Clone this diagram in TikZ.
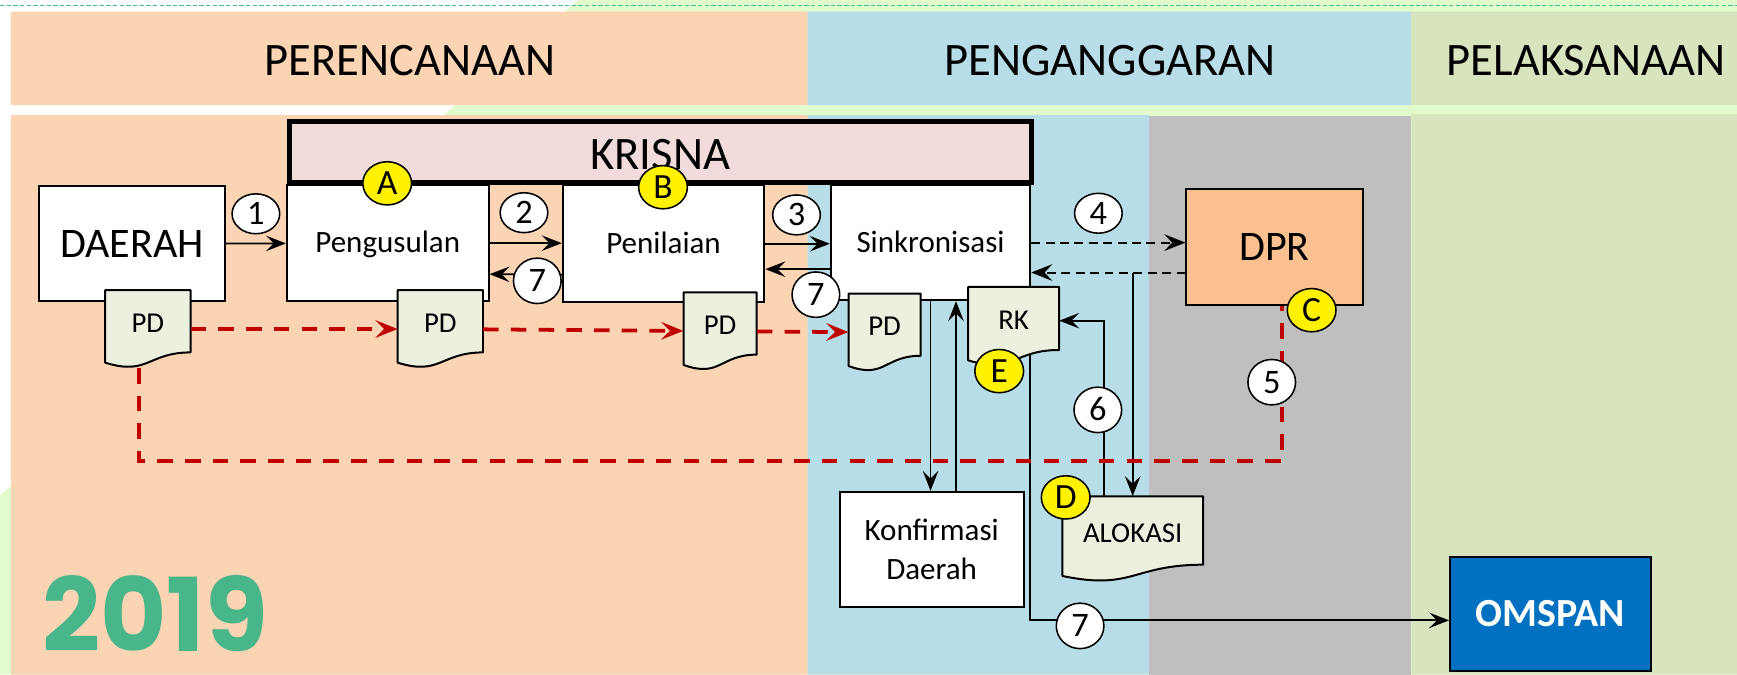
\documentclass[tikz,border=0pt]{standalone}
\usepackage{fontspec}
\setmainfont{Carlito}
\newfontfamily\yearfont{Poppins}
\usetikzlibrary{arrows.meta,shapes.geometric}

\definecolor{planbg}{HTML}{FBD4B4}
\definecolor{budgetbg}{HTML}{B7DEE8}
\definecolor{dprbg}{HTML}{BFBFBF}
\definecolor{execbg}{HTML}{D7E4BD}
\definecolor{paleback}{HTML}{E2FBCC}
\definecolor{krisnafill}{HTML}{F2DCDB}
\definecolor{dprfill}{HTML}{FAC090}
\definecolor{docfill}{HTML}{EBF1DE}
\definecolor{omspanblue}{HTML}{0070C0}
\definecolor{flowred}{HTML}{C00000}
\definecolor{yeargreen}{HTML}{48B689}
\definecolor{topline}{HTML}{40C090}

\tikzset{
  head/.style={font=\fontsize{42}{50}\selectfont, text height=26.5pt, text depth=0pt, inner sep=0pt},
  box/.style={draw, line width=1.8pt, fill=white, inner sep=0pt},
  bigtext/.style={font=\fontsize{38}{46}\selectfont, text height=24pt, text depth=0pt},
  midtext/.style={font=\fontsize{28}{35}\selectfont, text height=17.7pt, text depth=0pt},
  doc/.style={inner sep=0pt, font=\fontsize{26}{31}\selectfont, text height=16.4pt, text depth=10pt},
  docline/.style={draw=black, fill=docfill, line width=1.8pt, line join=round},
  num/.style={ellipse, draw, line width=1.4pt, fill=white, minimum width=43pt, minimum height=41pt,
    inner sep=0pt, font=\fontsize{31}{37}\selectfont, text height=19.6pt, text depth=0pt},
  tag/.style={num, fill=yellow, minimum width=44pt, minimum height=39pt,
    font=\fontsize{32}{38}\selectfont, text height=20.2pt},
  arr/.style={line width=1.6pt, -{Stealth[length=18pt,width=14pt,inset=7pt]}},
  dasharr/.style={line width=1.8pt, dash pattern=on 8pt off 5pt, -{Stealth[length=19pt,width=15pt,inset=7pt]}},
  redarr/.style={draw=flowred, line width=3.4pt, dash pattern=on 14pt off 11pt, -{Stealth[length=20pt,width=16pt,inset=8pt]}},
  redline/.style={draw=flowred, line width=3.4pt, dash pattern=on 14pt off 11pt}
}

% name, left, top, width, height, text
\newcommand{\paper}[6]{%
  \draw[docline] (#2,#3) -- ({#2+#4},#3) -- ({#2+#4},{#3+0.802*#5})
    .. controls ({#2+0.5*#4},{#3+0.802*#5}) and ({#2+0.5*#4},{#3+1.107*#5}) .. (#2,{#3+0.934*#5}) -- cycle;
  \node[doc, minimum width=#4pt, minimum height=#5pt] (#1) at ({#2+#4/2},{#3+#5/2}) {#6};
}

\begin{document}
\begin{tikzpicture}[x=1pt, y=-1pt]
\useasboundingbox (0,0) rectangle (1568,609);
\fill[white] (0,0) rectangle (1568,609);
\fill[paleback] (522,0) -- (1568,0) -- (1568,609) -- (0,609) -- (0,447) -- cycle;
\draw[topline, line width=1pt, dash pattern=on 4pt off 2pt] (0,5) -- (1568,5);
\fill[planbg] (10,10.5) rectangle (729,95) (10,104) rectangle (729,609);
\fill[budgetbg] (729,10.5) rectangle (1274,95) (729,104) rectangle (1037,609);
\fill[dprbg] (1037,105) rectangle (1274,609);
\fill[execbg] (1274,10.5) rectangle (1568,95) (1274,103) rectangle (1568,609);

\node[head] (plan) at (370,55) {PERENCANAAN};
\node[head] (budget) at (1002,55) {PENGANGGARAN};
\node[head] (exec) at (1432,55) {PELAKSANAAN};
\node[anchor=base, inner sep=0pt, text=yeargreen, text height=66pt, text depth=0pt,
  font=\yearfont\bfseries\fontsize{92}{100}\selectfont] (year) at (140,588) {2019};

% boxes
\node[box, bigtext, minimum width=168pt, minimum height=104pt] (daerah) at (119,220) {DAERAH};
\node[box, midtext, minimum width=182pt, minimum height=105pt] (usul) at (350,219.5) {Pengusulan};
\node[box, midtext, minimum width=182pt, minimum height=106pt] (nilai) at (599,220) {Penilaian};
\node[box, midtext, minimum width=180pt, minimum height=104pt] (sinkron) at (840,219) {Sinkronisasi};
\node[box, line width=4.5pt, fill=krisnafill, font=\fontsize{42}{50}\selectfont, text height=26.5pt, text depth=0pt,
  minimum width=670pt, minimum height=55pt] (krisna) at (596,137) {\raisebox{-2.5pt}{KRISNA}};
\node[box, bigtext, fill=dprfill, minimum width=159pt, minimum height=104pt] (dpr) at (1150.5,223) {DPR};
\node[box, font=\fontsize{28}{35}\selectfont, align=center, minimum width=166pt, minimum height=104pt] (konf) at (841,496) {Konfirmasi\\Daerah};
\node[box, fill=omspanblue, text=white, font=\bfseries\fontsize{36}{43}\selectfont, text height=22.7pt, text depth=0pt,
  minimum width=181pt, minimum height=103pt] (omspan) at (1399.5,554.5) {OMSPAN};

\draw[arr] ([xshift=-1pt]sinkron.south east) |- ([yshift=-5.5pt]omspan.west);

% documents
\paper{pd1}{95}{262}{77}{70}{PD}
\paper{pd2}{359}{262}{77}{70}{PD}
\paper{pd3}{617}{264}{66}{70}{PD}
\paper{pd4}{766}{265}{65}{70}{PD}
\paper{rk}{874}{259}{82}{71}{RK}
\paper{alok}{959}{448}{127}{77}{ALOKASI}

% flows
\draw[arr] (daerah) -- (usul);
\draw[arr] (usul.east) -- (usul.east -| nilai.west);
\draw[arr] ([yshift=-28pt]nilai.west) -- ([yshift=-28pt]usul.east);
\draw[arr] (nilai.east) -- (nilai.east -| sinkron.west);
\draw[arr] ([yshift=-24pt]sinkron.west) -- ([yshift=-24pt]sinkron.west -| nilai.east);
\draw[dasharr] (sinkron.east) -- (sinkron.east -| dpr.west);
\coordinate (back) at ([yshift=-23pt]dpr.west);
\draw[dasharr] (back) -- (back -| sinkron.east);
\draw[arr] (back -| alok.north) -- (alok.north);
\draw[arr] ([xshift=-26pt]alok.north) |- ([yshift=5pt]rk.east);
\draw[arr] (sinkron.south) -- (konf.north -| sinkron.south);
\draw[arr] ([xshift=22pt]konf.north) -- ([xshift=22pt]konf.north |- sinkron.south);

\draw[redarr] (pd1) -- (pd2);
\draw[redarr] (pd2) -- (pd3);
\draw[redarr] (pd3) -- (pd4);
\coordinate (loop) at (1157,416);
\draw[redline] ([xshift=31pt]pd1.south west) |- (loop) -- (loop |- dpr.south);

% step numbers
\node[num, minimum height=36pt] (c1) at (231,193) {1};
\node[num, minimum height=36pt] (c2) at (473,192) {2};
\node[num, minimum height=36pt] (c3) at (719,194) {3};
\node[num, minimum height=36pt] (c4) at (991.5,192.5) {4};
\node[num] (c5) at (1148,345) {5};
\node[num] (c6) at (991,370) {6};
\node[num] (c7a) at (485,253.5) {7};
\node[num] (c7b) at (736.5,266) {7};
\node[num] (c7c) at (975,565) {7};

\node[tag] (ta) at (349.5,165.5) {A};
\node[tag] (tb) at (598.5,169) {B};
\node[tag] (tc) at (1184,280) {C};
\node[tag] (td) at (962,449) {D};
\node[tag] (te) at (902,335) {E};
\end{tikzpicture}
\end{document}
